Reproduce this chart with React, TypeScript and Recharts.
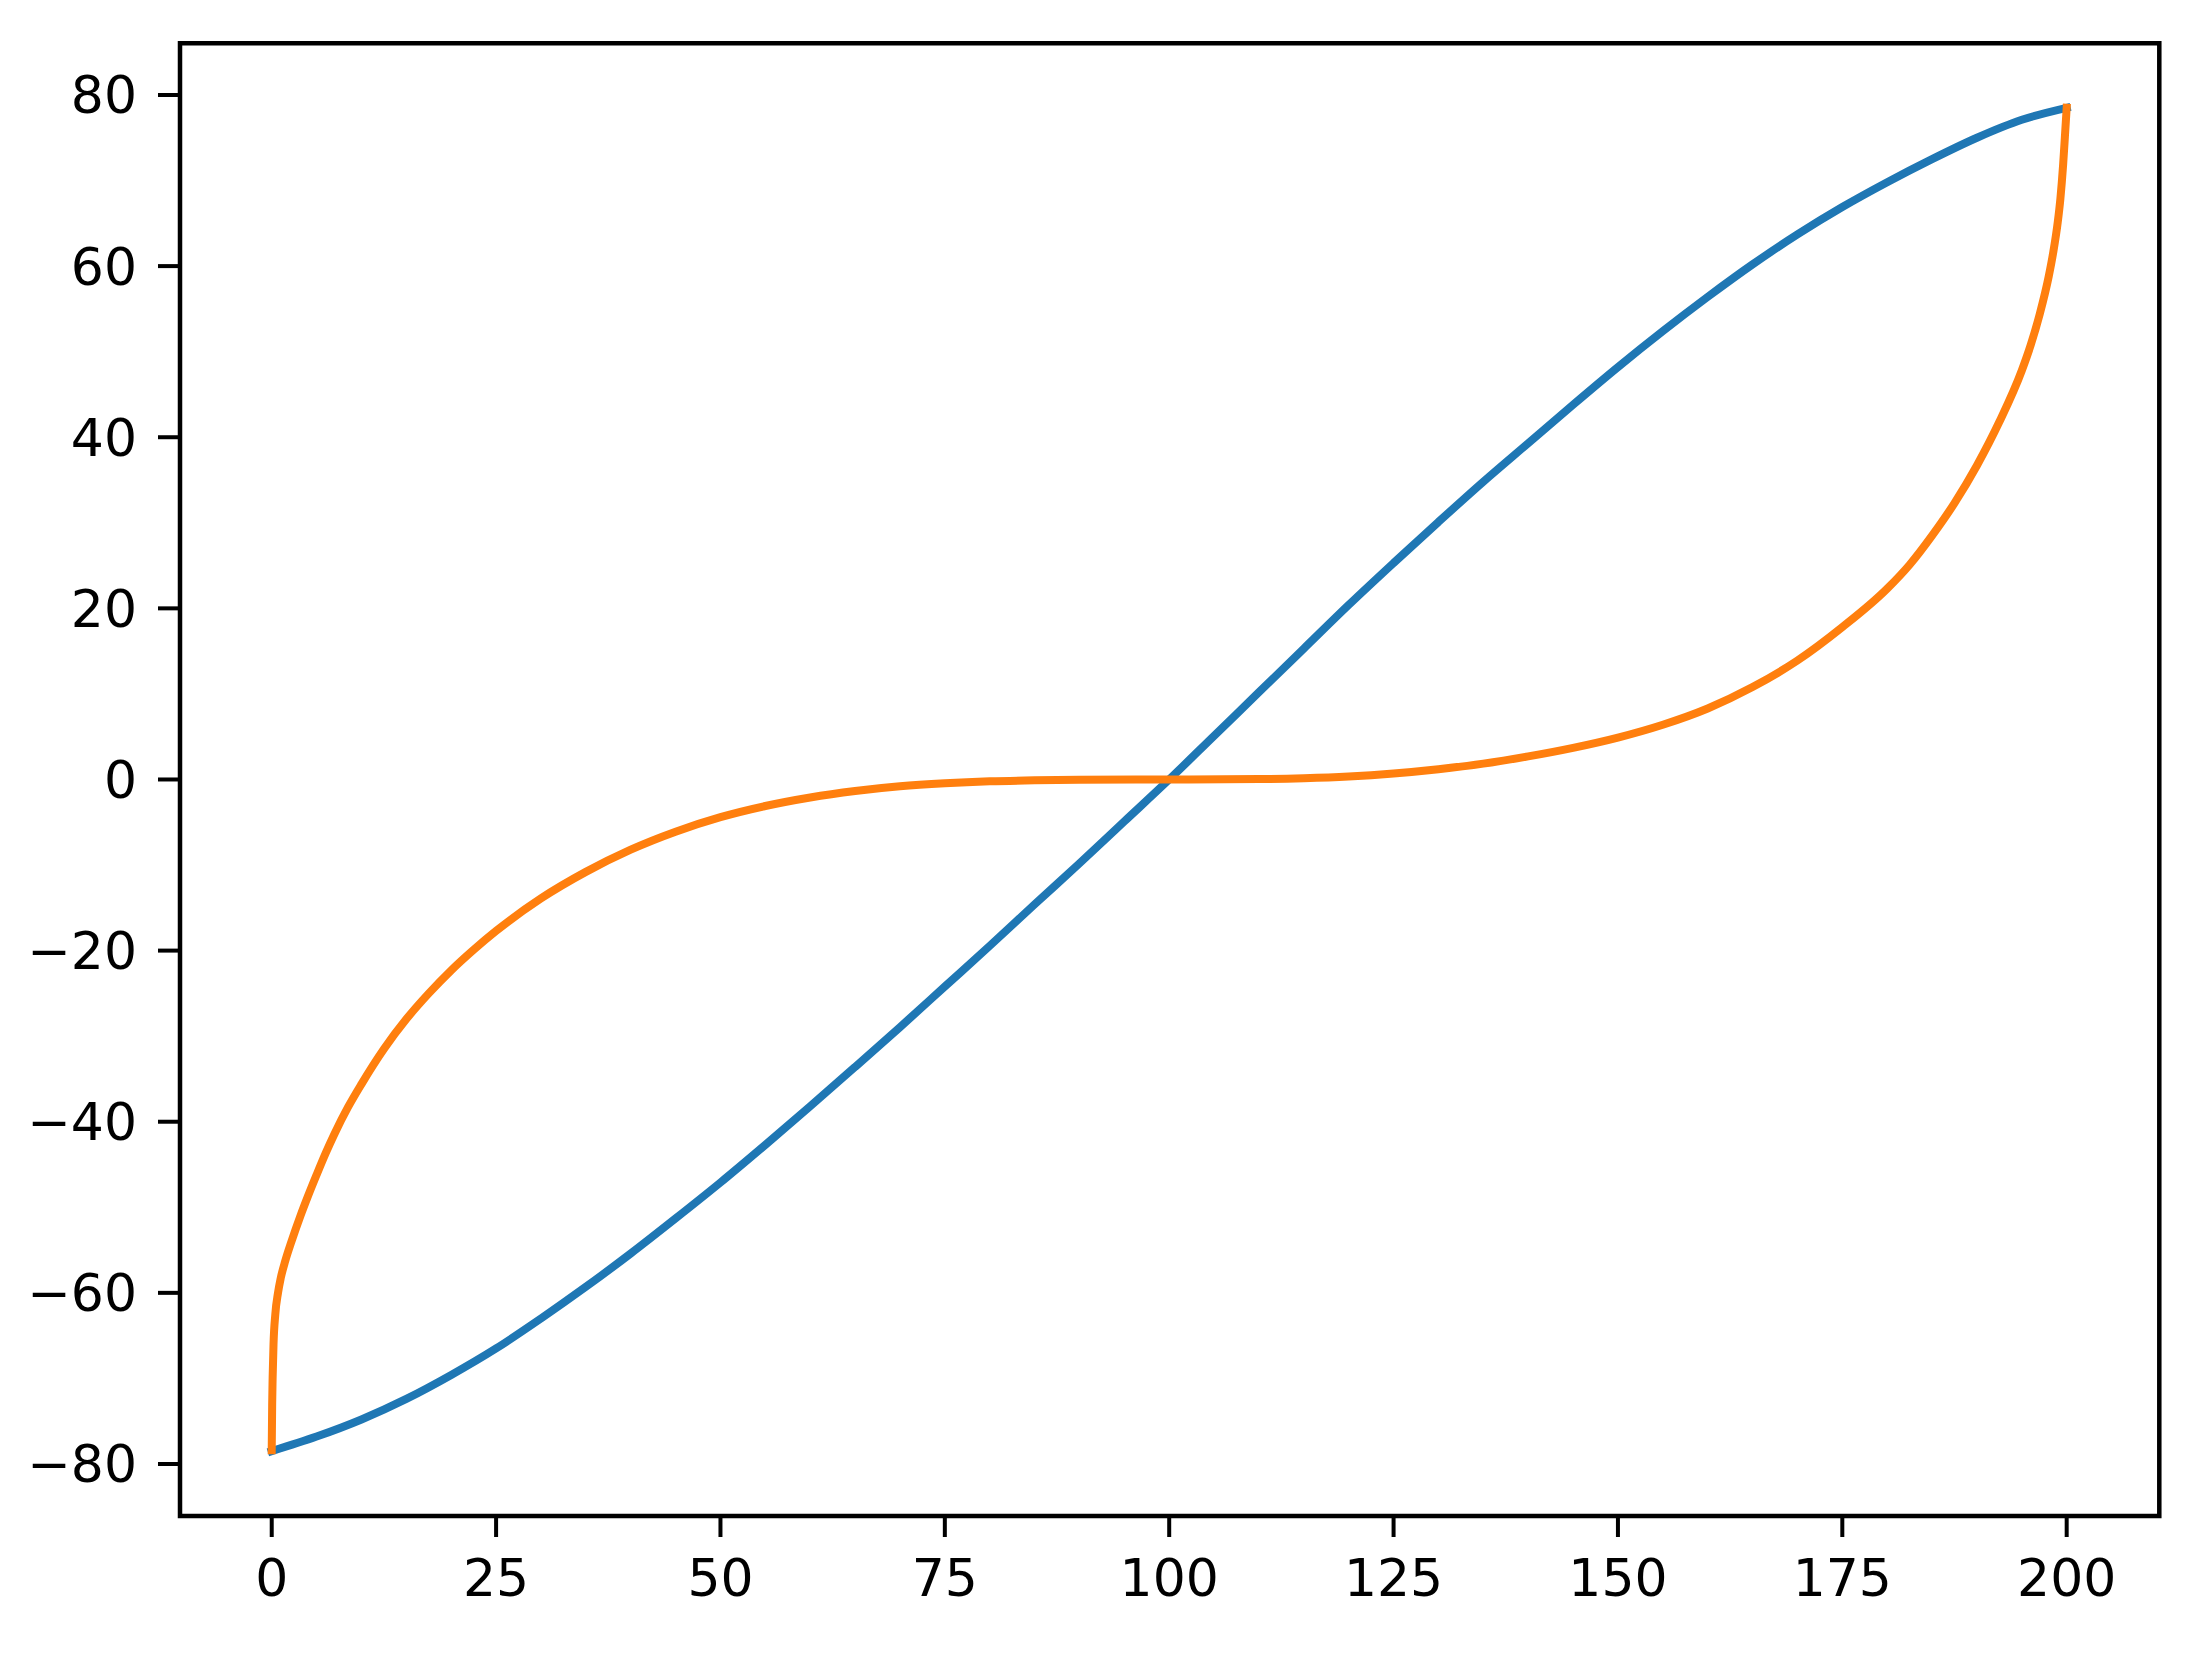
import React from 'react';
import { LineChart, Line, XAxis, YAxis, ReferenceArea } from 'recharts';

// ---- data ----
const blueX = [0, 5, 10, 15, 20, 25, 30, 35, 40, 45, 50, 55, 60, 65, 70, 75, 80, 85, 90, 95, 100, 105, 110, 115, 120, 125, 130, 135, 140, 145, 150, 155, 160, 165, 170, 175, 180, 185, 190, 195, 200];
const blueY = [-78.5, -76.8, -74.8, -72.4, -69.6, -66.5, -63.0, -59.3, -55.4, -51.3, -47.1, -42.7, -38.2, -33.6, -28.95, -24.2, -19.45, -14.6, -9.8, -4.9, 0, 5.1, 10.2, 15.3, 20.4, 25.3, 30.1, 34.8, 39.3, 43.8, 48.2, 52.4, 56.4, 60.2, 63.7, 66.9, 69.8, 72.5, 75.0, 77.1, 78.5];

const orangeX = [0, 0.05, 0.1, 0.2, 0.4, 0.7, 1.0, 1.5, 2.2, 3.2, 4, 5, 6, 7, 8.5, 10, 12.5, 15, 17.5, 20, 22.5, 25, 30, 35, 40, 45, 50, 55, 60, 65, 70, 75, 80, 85, 90, 100, 110, 115, 120, 125, 130, 135, 140, 145, 150, 155, 160, 165, 170, 175, 180, 182.5, 185, 187.5, 190, 192.5, 195, 196, 197, 198, 198.5, 199, 199.3, 199.6, 199.8, 200];
const orangeY = [-78.4, -73, -70, -66, -62.5, -60, -58.3, -56.3, -54.0, -51.0, -48.8, -46.2, -43.7, -41.4, -38.3, -35.6, -31.5, -28.0, -25.0, -22.3, -19.9, -17.7, -13.9, -10.8, -8.2, -6.1, -4.4, -3.1, -2.1, -1.35, -0.8, -0.45, -0.22, -0.1, -0.04, 0, 0.05, 0.15, 0.35, 0.7, 1.2, 1.85, 2.7, 3.7, 4.9, 6.4, 8.3, 10.8, 13.9, 17.8, 22.3, 25.1, 28.5, 32.3, 36.7, 41.8, 47.8, 50.8, 54.4, 58.8, 61.6, 65.1, 67.9, 71.8, 75.1, 78.5];

const xTicks = [0, 25, 50, 75, 100, 125, 150, 175, 200];
const yTicks = [-80, -60, -40, -20, 0, 20, 40, 60, 80];

const X_DOMAIN: [number, number] = [-10.22, 210.32];
const Y_DOMAIN: [number, number] = [-86.08, 86.04];

const blueData = blueX.map((x, i) => ({ x, y: blueY[i] }));
const orangeData = orangeX.map((x, i) => ({ x, y: orangeY[i] }));

const fmt = (v: number) => String(v).replace('-', '\u2212');

const tickStyle = { fill: '#000', fontSize: 52, fontFamily: 'DejaVu Sans' };
const tickLineStyle = { stroke: '#000', strokeWidth: 4 };

export default function App() {
  return (
    <div style={{ position: 'absolute', left: 0, top: 0, width: 2200, height: 1662, background: '#fff' }}>
      <LineChart width={2200} height={1662} margin={{ top: 43.3, right: 40.7, bottom: 0, left: 0 }}>
        <XAxis
          type="number"
          dataKey="x"
          domain={X_DOMAIN}
          ticks={xTicks}
          allowDataOverflow
          interval={0}
          height={146}
          tickSize={21}
          tickMargin={22}
          axisLine={false}
          tickLine={tickLineStyle}
          tick={tickStyle}
          tickFormatter={fmt}
        />
        <YAxis
          type="number"
          domain={Y_DOMAIN}
          ticks={yTicks}
          allowDataOverflow
          interval={0}
          width={180}
          tickSize={22}
          tickMargin={21}
          axisLine={false}
          tickLine={tickLineStyle}
          tick={tickStyle}
          tickFormatter={fmt}
        />
        <Line
          data={blueData}
          dataKey="y"
          type="monotone"
          stroke="#1f77b4"
          strokeWidth={8}
          strokeLinecap="square"
          dot={false}
          activeDot={false}
          isAnimationActive={false}
        />
        <Line
          data={orangeData}
          dataKey="y"
          type="monotone"
          stroke="#ff7f0e"
          strokeWidth={8}
          strokeLinecap="square"
          dot={false}
          activeDot={false}
          isAnimationActive={false}
        />
        <ReferenceArea
          x1={X_DOMAIN[0]}
          x2={X_DOMAIN[1]}
          y1={Y_DOMAIN[0]}
          y2={Y_DOMAIN[1]}
          ifOverflow="visible"
          fill="none"
          fillOpacity={0}
          stroke="#000"
          strokeWidth={4.5}
        />
      </LineChart>
    </div>
  );
}
